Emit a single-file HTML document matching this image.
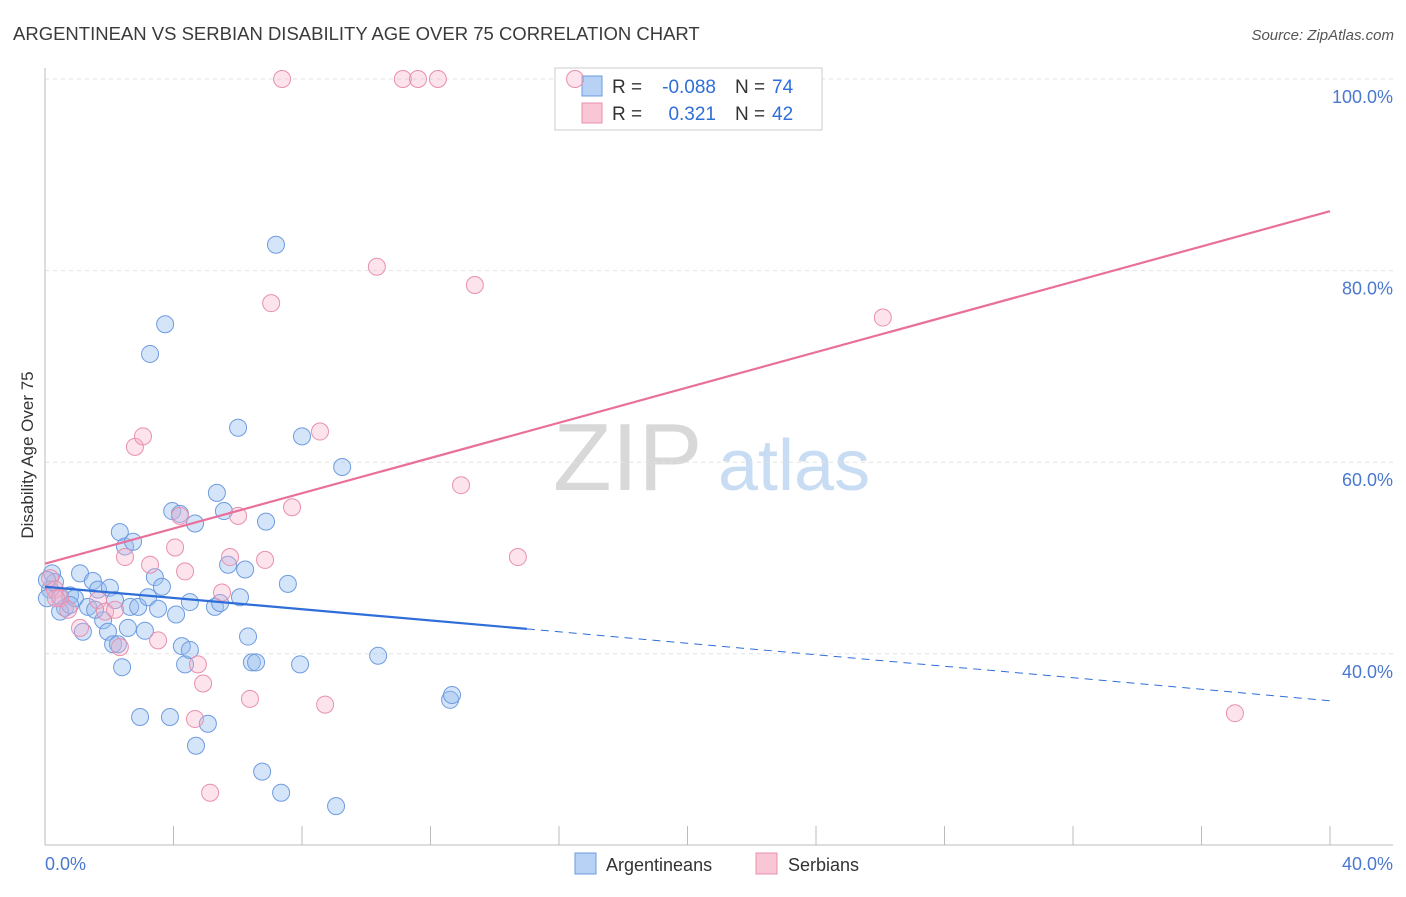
<!DOCTYPE html>
<html><head><meta charset="utf-8">
<style>
body{margin:0;background:#fff;font-family:"Liberation Sans",sans-serif;}
svg text{font-family:"Liberation Sans",sans-serif;}
</style></head>
<body>
<svg id="chart" width="1406" height="892" xmlns="http://www.w3.org/2000/svg">
<text x="13" y="40" font-size="18.5" fill="#3a3a3a">ARGENTINEAN VS SERBIAN DISABILITY AGE OVER 75 CORRELATION CHART</text>
<text x="1394" y="40" font-size="15" fill="#555" text-anchor="end" font-style="italic">Source: ZipAtlas.com</text>
<g>
<text x="553" y="490" font-size="96" fill="#d8d8d8" font-family="Liberation Serif,serif">ZIP</text>
<text x="718" y="490" font-size="72" fill="#c8dcf3">atlas</text>
</g>
<g id="grid"></g>
<line x1="45" y1="68" x2="45" y2="845" stroke="#bbb"/>
<line x1="45" y1="845" x2="1393" y2="845" stroke="#bbb"/>
<g id="ticks"></g>
<g>
<rect x="555" y="68" width="267" height="62" fill="#fff" stroke="#ccc"/>
<rect x="582" y="76" width="20" height="20" fill="#b8d2f5" stroke="#6e9be0"/>
<rect x="582" y="103" width="20" height="20" fill="#f9c6d6" stroke="#e890ac"/>
<text x="612" y="93" font-size="19" fill="#333">R =</text>
<text x="716" y="93" font-size="19" fill="#2f6ed8" text-anchor="end">-0.088</text>
<text x="735" y="93" font-size="19" fill="#333">N =</text>
<text x="772" y="93" font-size="19" fill="#2f6ed8">74</text>
<text x="612" y="120" font-size="19" fill="#333">R =</text>
<text x="716" y="120" font-size="19" fill="#2f6ed8" text-anchor="end">0.321</text>
<text x="735" y="120" font-size="19" fill="#333">N =</text>
<text x="772" y="120" font-size="19" fill="#2f6ed8">42</text>
</g>
<g id="points"></g>
<g id="lines"></g>
<text transform="translate(33,455) rotate(-90)" font-size="17" fill="#333" text-anchor="middle">Disability Age Over 75</text>
<text x="45" y="870" font-size="18" fill="#4a78d0">0.0%</text>
<text x="1393" y="870" font-size="18" fill="#4a78d0" text-anchor="end">40.0%</text>
<g>
<rect x="575" y="853" width="21" height="21" fill="#b8d2f5" stroke="#6e9be0"/>
<text x="606" y="871" font-size="18" fill="#333">Argentineans</text>
<rect x="756" y="853" width="21" height="21" fill="#f9c6d6" stroke="#e890ac"/>
<text x="788" y="871" font-size="18" fill="#333">Serbians</text>
</g>
</svg>
<script>
const yTicks=[100,80,60,40];
const yTickLabels=["100.0%","80.0%","60.0%","40.0%"];
const xTicks=[0,4,8,12,16,20,24,28,32,36,40];
const blueX=[0.22,0.31,0.16,0.47,0.62,0.78,0.93,1.09,1.18,1.34,1.49,1.65,1.81,1.96,2.02,2.12,2.27,2.33,2.40,2.49,2.58,2.74,2.65,2.90,2.96,3.11,3.21,3.27,3.42,3.52,3.64,3.74,3.89,3.96,4.08,4.20,4.26,4.36,4.51,4.51,4.67,4.70,5.07,5.29,5.35,5.45,5.57,5.70,6.01,6.07,6.23,6.32,6.44,6.57,6.76,6.88,7.19,7.35,7.56,7.94,8.00,9.06,9.25,10.37,12.61,12.67,1.56,0.47,2.18,0.78,0.06,0.06];
const blueY=[48.4,47.5,46.7,46.0,44.8,46.1,45.8,48.4,42.3,44.9,47.6,46.7,43.5,42.3,46.9,41.0,41.0,52.7,38.6,51.2,42.7,51.7,44.9,44.9,33.4,42.4,45.9,71.3,48.0,44.7,47.0,74.4,33.4,54.9,44.1,54.6,40.8,38.9,40.4,45.4,53.6,30.4,32.7,44.9,56.8,45.3,54.9,49.3,63.6,45.9,48.8,41.8,39.1,39.1,27.7,53.8,82.7,25.5,47.3,38.9,62.7,24.1,59.5,39.8,35.2,35.7,44.6,44.4,45.6,45.1,47.7,45.8];
const pinkX=[0.16,0.31,0.47,0.72,1.09,1.65,1.87,2.18,2.33,2.49,2.80,3.05,3.27,3.52,4.05,4.20,4.36,4.67,4.76,4.92,5.14,5.51,5.76,6.01,6.38,6.85,7.04,7.38,7.69,8.56,8.72,10.33,11.14,11.61,12.23,12.95,13.38,14.72,16.50,26.08,37.04,0.34];
const pinkY=[47.9,46.7,45.8,44.6,42.7,45.6,44.4,44.6,40.7,50.1,61.6,62.7,49.3,41.4,51.1,54.4,48.6,33.2,38.9,36.9,25.5,46.4,50.1,54.4,35.3,49.8,76.6,100,55.3,63.2,34.7,80.4,100,100,100,57.6,78.5,50.1,100,75.1,33.8,45.8];
const pinkTrend=[[0,49.4],[40,86.2]];
const blueTrendSolid=[[0,47.0],[15.0,42.6]];
const blueTrendDash=[[15.0,42.6],[40,35.1]];

const NS="http://www.w3.org/2000/svg";
const sx=v=>45+v/40*1285;
const sy=v=>79+(100-v)*9.58;
function mk(tag,attrs,parent){const e=document.createElementNS(NS,tag);for(const k in attrs)e.setAttribute(k,attrs[k]);document.getElementById(parent).appendChild(e);return e;}
yTicks.forEach((t,i)=>{
  const l=mk('line',{x1:45,x2:1393,y1:sy(t),y2:sy(t),stroke:'#e2e2e2','stroke-dasharray':'4,4'},'grid');
  
  
  const tx=mk('text',{x:1393,y:sy(t)+24,'font-size':18,fill:'#4a78d0','text-anchor':'end'},'grid');
  tx.textContent=yTickLabels[i];
  
  
});
xTicks.forEach(t=>{
  const l=mk('line',{x1:sx(t),x2:sx(t),y1:826,y2:845,stroke:'#bbb'},'ticks');
  
  
});
blueX.forEach((x,i)=>{
  const c=mk('circle',{cx:sx(x),cy:sy(blueY[i]),r:8.5,fill:'rgba(150,190,240,0.4)',stroke:'#6e9be0','stroke-width':1},'points');
  
  
});
pinkX.forEach((x,i)=>{
  const c=mk('circle',{cx:sx(x),cy:sy(pinkY[i]),r:8.5,fill:'rgba(245,175,200,0.35)',stroke:'#e890ac','stroke-width':1},'points');
  
  
});
function line(p,attrs,name){
  const l=mk('line',Object.assign({x1:sx(p[0][0]),y1:sy(p[0][1]),x2:sx(p[1][0]),y2:sy(p[1][1])},attrs),'lines');
  
  
}
line(pinkTrend,{stroke:'#e8709a','stroke-width':2.2},'serbian-trendline');
line(blueTrendSolid,{stroke:'#2f6ed8','stroke-width':2.2},'argentinean-trendline');
line(blueTrendDash,{stroke:'#2f6ed8','stroke-width':1,'stroke-dasharray':'8,6'},'argentinean-trendline-extension');
</script>
</body></html>
